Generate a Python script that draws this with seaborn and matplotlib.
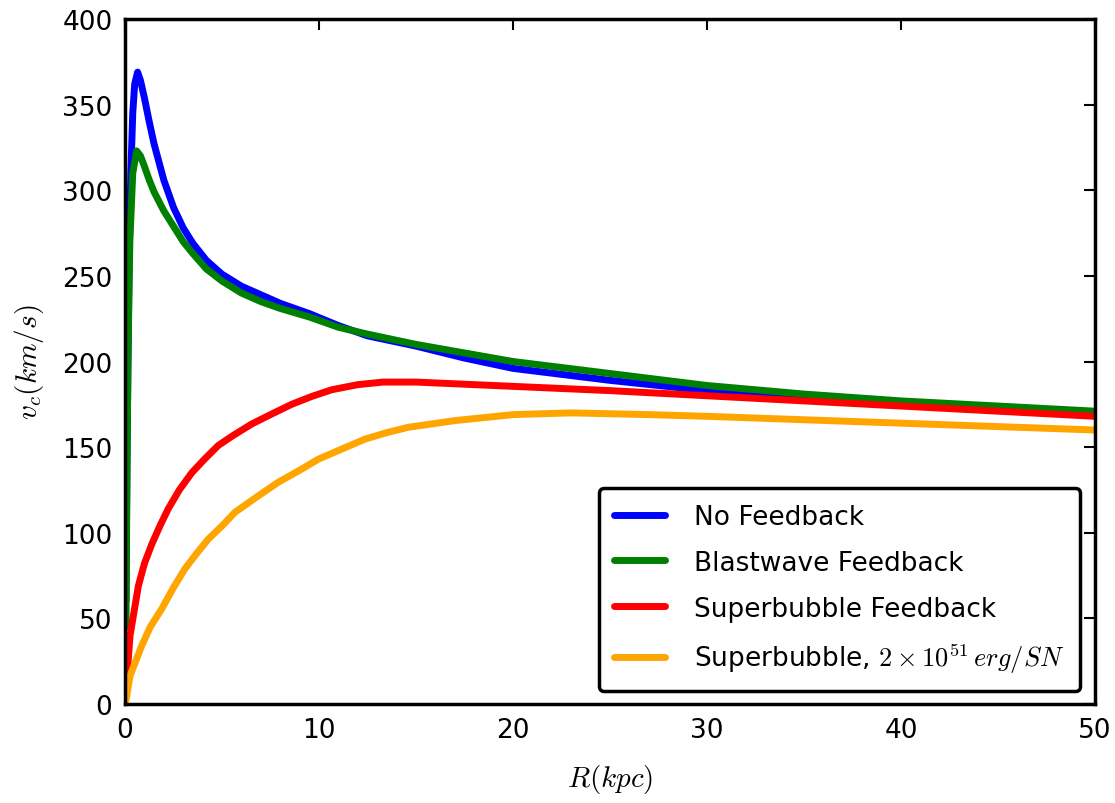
import numpy as np
import pandas as pd
import matplotlib
matplotlib.use("Agg")
import matplotlib.pyplot as plt
from matplotlib.lines import Line2D
import seaborn as sns

# ---- data ----
r_nofb = [0.05, 0.1, 0.2, 0.3, 0.4, 0.5, 0.65, 0.8, 1.0, 1.25, 1.5, 2.0, 2.5, 3.0, 3.5, 4.2, 5.0, 6.0, 7.0, 8.0, 9.5,
          11, 12.5, 15, 17.5, 20, 25, 30, 35, 40, 45, 50]
v_nofb = [60, 140, 250, 310, 345, 362, 369, 364, 354, 340, 327, 306, 290, 278, 269, 259, 251, 244, 239, 234, 228,
          221, 215, 209, 202, 196, 189, 183, 179, 176, 173, 170]

r_blast = [0.05, 0.1, 0.15, 0.25, 0.4, 0.6, 0.8, 1.0, 1.25, 1.5, 2.0, 2.5, 3.0, 3.5, 4.2, 5.0, 6.0, 7.0, 8.0, 9.5,
           11, 12.5, 15, 17.5, 20, 25, 30, 35, 40, 45, 50]
v_blast = [45, 130, 200, 270, 310, 323, 320, 314, 306, 299, 288, 279, 270, 263, 254, 247, 240, 235, 231, 226,
           220, 216, 210, 205, 200, 193, 186, 181, 177, 174, 171]

r_sb = [0.05, 0.26, 0.69, 1.0, 1.37, 1.8, 2.23, 2.8, 3.44, 4.1, 4.81, 5.6, 6.53, 7.5, 8.59, 9.6, 10.65, 12, 13.3,
        15, 17, 20, 25, 30, 35, 40, 45, 50]
v_sb = [8, 40, 69, 82, 93, 104, 114, 125, 135, 143, 151, 157, 163.5, 169, 175, 179.5, 183.5, 186.5, 188,
        188, 187, 185.5, 183, 180, 177, 174, 171, 168]

r_sb2 = [0.05, 0.26, 0.86, 1.3, 1.89, 2.5, 3.09, 3.7, 4.3, 5.0, 5.67, 6.8, 7.9, 9.0, 9.97, 11.2, 12.37, 13.5,
         14.6, 17, 20, 23, 27, 30, 35, 40, 45, 50]
v_sb2 = [2, 16.5, 34, 45, 55.5, 68, 79, 88, 96.4, 104, 112, 121, 129.5, 136.5, 143, 149, 154.7, 158.5,
         161.6, 165.5, 169, 170, 169, 168, 166, 164, 162, 160]

labels = ["No Feedback", "Blastwave Feedback", "Superbubble Feedback",
          r"Superbubble, $2\times10^{51}\,erg/SN$"]
colors = ["#0000ff", "#008000", "#ff0000", "#ffa500"]

series = [(r_nofb, v_nofb), (r_blast, v_blast), (r_sb, v_sb), (r_sb2, v_sb2)]
frames = []
for lab, (r, v) in zip(labels, series):
    frames.append(pd.DataFrame({"R": r, "v": v, "run": lab}))
df = pd.concat(frames, ignore_index=True)

sns.set_style("white")
plt.rcParams["mathtext.fontset"] = "cm"
plt.rcParams["font.family"] = ["DejaVu Sans"]
plt.rcParams["text.color"] = "black"
plt.rcParams["axes.labelcolor"] = "black"

fig = plt.figure(figsize=(11.15, 8.04), dpi=100)
ax = fig.add_axes([0.1121, 0.1231, 0.870, 0.852])

sns.lineplot(data=df, x="R", y="v", hue="run", hue_order=labels,
             palette=dict(zip(labels, colors)), estimator=None, sort=True,
             linewidth=5, ax=ax, legend=False)
for ln in ax.get_lines():
    ln.set_solid_joinstyle("round")
    ln.set_solid_capstyle("round")

ax.set_xlim(0, 50)
ax.set_ylim(0, 400)
ax.set_xticks([0, 10, 20, 30, 40, 50])
ax.set_yticks(np.arange(0, 401, 50))
ax.set_xlabel(r"$R(kpc)$", fontsize=21, labelpad=14)
ax.set_ylabel(r"$v_c(km/s)$", fontsize=21, labelpad=12)

for s in ax.spines.values():
    s.set_visible(True)
    s.set_color("black")
    s.set_linewidth(2.5)
ax.tick_params(direction="in", length=8, width=1.5, top=True, right=True,
               labelsize=19, pad=9, colors="black")

handles = [Line2D([0], [0], color=c, lw=5) for c in colors]
leg = ax.legend(handles, labels, loc="lower right", fontsize=19,
                frameon=True, fancybox=True, handlelength=1.9,
                handletextpad=1.1, labelspacing=0.75, borderpad=0.6,
                bbox_to_anchor=(0.998, 0.0))
leg.get_frame().set_edgecolor("black")
leg.get_frame().set_linewidth(2.5)
leg.get_frame().set_alpha(1)
for t in leg.get_texts():
    t.set_color("black")

fig.savefig("out.png", dpi=100, facecolor="white")
